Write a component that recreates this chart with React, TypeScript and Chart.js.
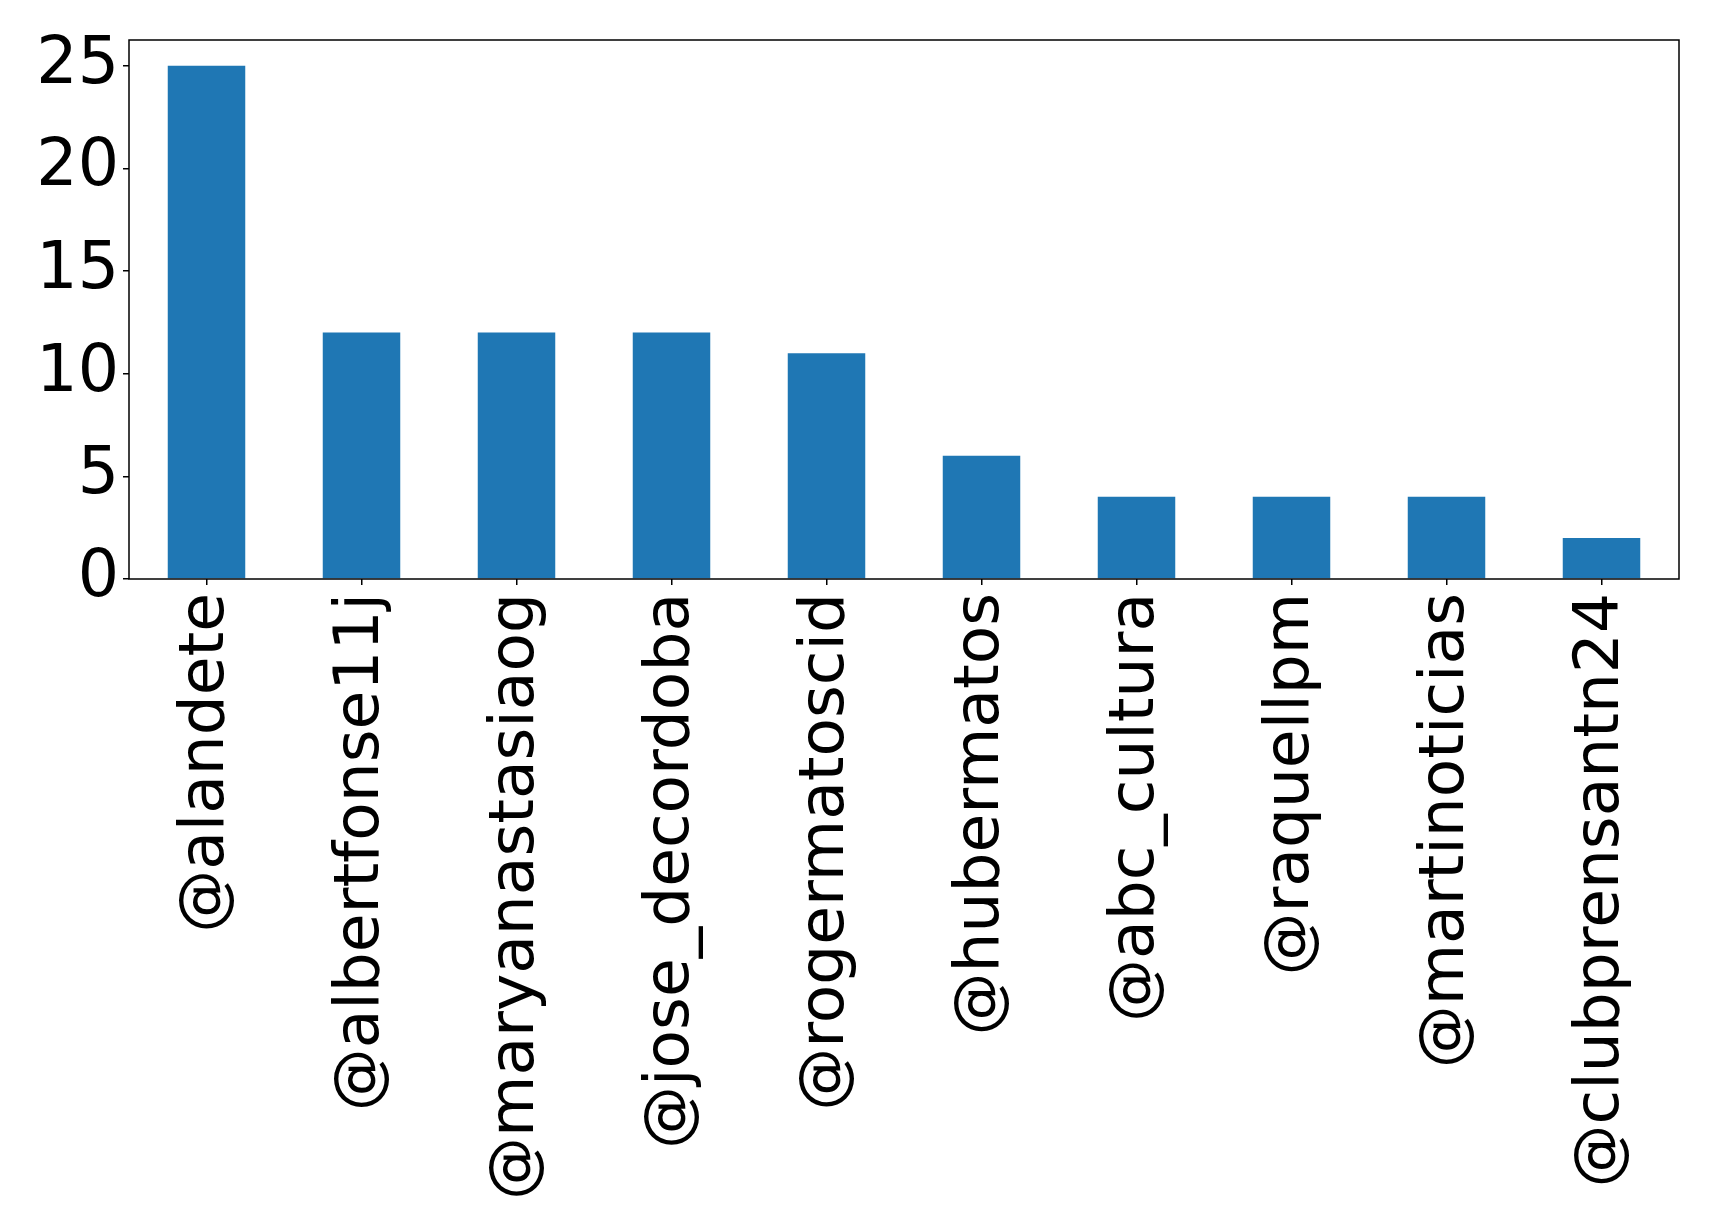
import React, { useEffect, useRef } from "react";
import { Chart, registerables } from "chart.js";

Chart.register(...registerables);

const categories = [
  "@alandete",
  "@albertfonse11j",
  "@maryanastasiaog",
  "@jose_decordoba",
  "@rogermatoscid",
  "@hubermatos",
  "@abc_cultura",
  "@raquellpm",
  "@martinoticias",
  "@clubprensantn24",
];
const counts = [25, 12, 12, 12, 11, 6, 4, 4, 4, 2];
const yTicks = [0, 5, 10, 15, 20, 25];

const W = 1719;
const H = 1230;
const LEFT = 129;
const RIGHT = 1679;
const TOP = 40;
const BOTTOM = 579;

const frame = {
  id: "frame",
  afterDraw(chart: any) {
    const { ctx, chartArea } = chart;
    ctx.save();
    ctx.strokeStyle = "#000";
    ctx.lineWidth = 1.5;
    ctx.strokeRect(chartArea.left, chartArea.top, chartArea.right - chartArea.left, chartArea.bottom - chartArea.top);
    ctx.restore();
  },
};

function zeroPad(scale: any) {
  scale.paddingTop = 0;
  scale.paddingBottom = 0;
  scale.paddingLeft = 0;
  scale.paddingRight = 0;
}

export default function App() {
  const ref = useRef<HTMLCanvasElement | null>(null);
  useEffect(() => {
    document.body.style.margin = "0";
    const xFont = { family: "DejaVu Sans", size: 63 };
    const yFont = { family: "DejaVu Sans", size: 65 };
    const chart = new Chart(ref.current as HTMLCanvasElement, {
      type: "bar",
      data: {
        labels: categories,
        datasets: [
          {
            data: counts,
            backgroundColor: "#1f77b4",
            barPercentage: 0.5,
            categoryPercentage: 1,
          },
        ],
      },
      options: {
        animation: false,
        responsive: false,
        devicePixelRatio: 1,
        layout: { padding: { left: 0, right: W - RIGHT, top: TOP, bottom: 0 } },
        plugins: { legend: { display: false }, tooltip: { enabled: false } },
        scales: {
          x: {
            offset: true,
            grid: { display: true, offset: false, drawOnChartArea: false, tickLength: 6, color: "#000", lineWidth: 1.5 },
            border: { display: false },
            ticks: { font: xFont, color: "#000", maxRotation: 90, minRotation: 90, padding: 8, autoSkip: false },
            afterFit(scale: any) {
              scale.height = H - BOTTOM;
              zeroPad(scale);
            },
          },
          y: {
            min: 0,
            max: 26.25,
            grid: { display: true, drawOnChartArea: false, tickLength: 6, color: "#000", lineWidth: 1.5 },
            border: { display: false },
            afterBuildTicks(scale: any) {
              scale.ticks = yTicks.map((v) => ({ value: v }));
            },
            ticks: { font: yFont, color: "#000", padding: 4 },
            afterFit(scale: any) {
              scale.width = LEFT;
              zeroPad(scale);
            },
          },
        },
      },
      plugins: [frame],
    });
    return () => chart.destroy();
  }, []);
  return (
    <div style={{ width: W, height: H, background: "#fff" }}>
      <canvas ref={ref} width={W} height={H} style={{ width: W, height: H, display: "block" }} />
    </div>
  );
}
